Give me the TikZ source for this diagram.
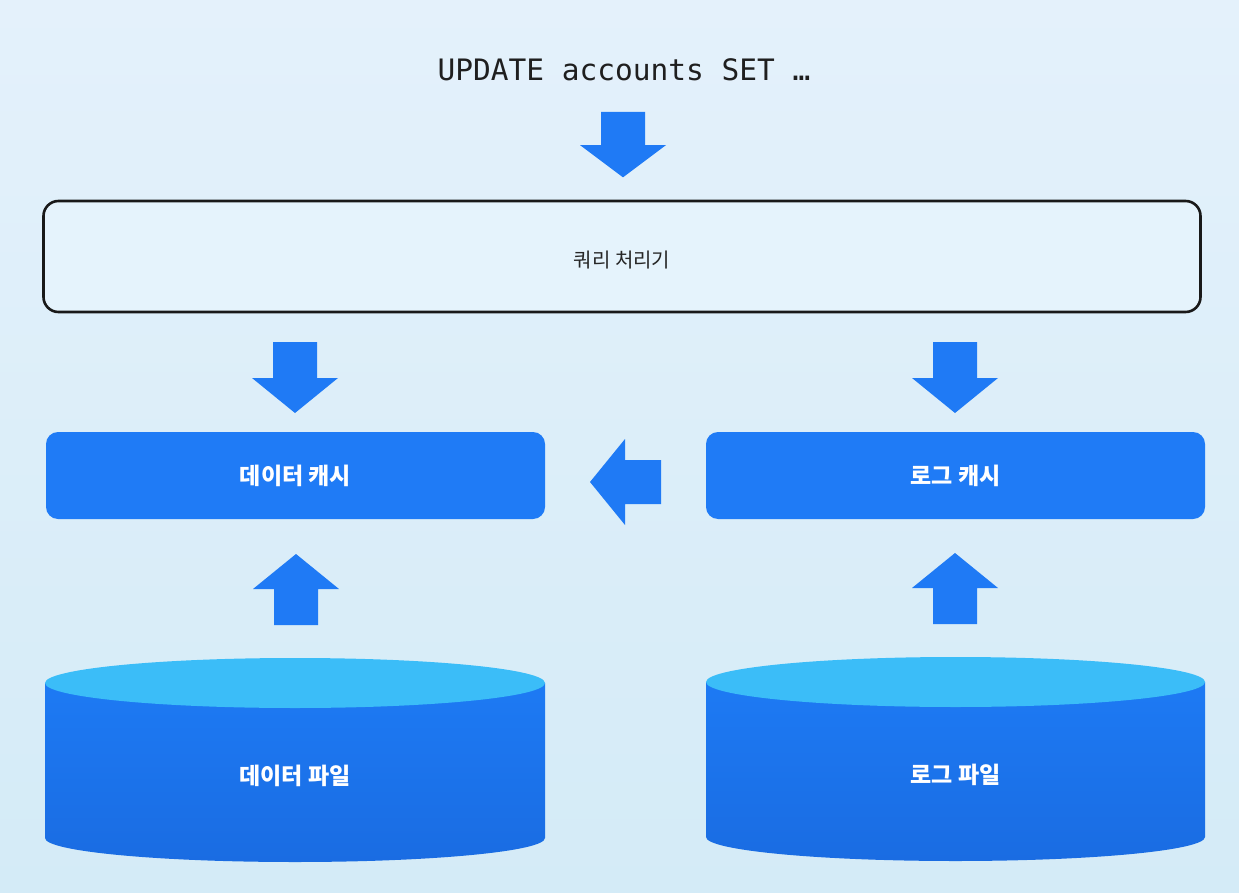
\documentclass[tikz,border=0pt]{standalone}
\usepackage{fontspec}
\setmonofont{DejaVu Sans Mono}
\newfontfamily\kr{Noto Sans CJK KR}
\definecolor{bgtop}{HTML}{E4F1FB}
\definecolor{bgbot}{HTML}{D4EBF7}
\definecolor{boxblue}{HTML}{1F7BF6}
\definecolor{arrowblue}{HTML}{1F7AF5}
\definecolor{cyltop}{HTML}{3BBDF8}
\definecolor{cylbody}{HTML}{1D7AF4}
\definecolor{cylbot}{HTML}{1A6CE2}
\definecolor{qfill}{HTML}{E5F3FC}
\tikzset{
  querybox/.style={draw=black!90, line width=2.6pt, fill=qfill, rounded corners=15pt,
    minimum width=1157pt, minimum height=111pt, inner sep=0pt},
  querylabel/.style={inner sep=0pt, font=\kr\fontsize{20}{22}\selectfont, text=black!85},
  cachebox/.style={fill=boxblue, rounded corners=12pt, minimum width=499pt,
    minimum height=87pt, inner sep=0pt, text=white,
    font=\kr\bfseries\fontsize{23}{26}\selectfont},
  cyllabel/.style={text=white, inner sep=0pt, font=\kr\bfseries\fontsize{23}{26}\selectfont},
  pics/barrow/.style={code={
    \fill[arrowblue] (-22,0) -- (22,0) -- (22,36) -- (43,36) -- (0,71)
      -- (-43,36) -- (-22,36) -- cycle;}}
}
\begin{document}
\begin{tikzpicture}[x=1pt,y=-1pt]
\useasboundingbox (0,0) rectangle (1239,893);
\shade[top color=bgtop,bottom color=bgbot] (0,0) rectangle (1239,893);

% top statement
\node[font=\ttfamily\fontsize{29.5}{32}\selectfont, text=black!88, inner sep=0pt] (upd) at (624,70) {UPDATE accounts SET …};

% query processor
\node[querybox] (qp) at (622,256.5) {};
\node[querylabel] (qpl) at ([yshift=-4pt]qp.center) {쿼리 처리기};

% caches
\node[cachebox] (dc) at (295.5,475.5) {데이터 캐시};
\node[cachebox] (lc) at (955.5,475.5) {로그 캐시};

% cylinders
\shade[top color=cylbody, bottom color=cylbot]
  (45,683) -- (45,838) arc[start angle=180, end angle=0, x radius=250, y radius=24]
  -- (545,683) -- cycle;
\fill[cyltop] (295,683) ellipse[x radius=250, y radius=25];
\node[cyllabel] (df) at (295,776) {데이터 파일};

\shade[top color=cylbody, bottom color=cylbot]
  (706,682) -- (706,837) arc[start angle=180, end angle=0, x radius=249.5, y radius=24]
  -- (1205,682) -- cycle;
\fill[cyltop] (955.5,682) ellipse[x radius=249.5, y radius=25];
\node[cyllabel] (lf) at (955.5,775) {로그 파일};

% block arrows (tail points)
\coordinate (a0) at (623,112);
\coordinate (a1) at (295,342);
\coordinate (a2) at (955,342);
\coordinate (a3) at (661,482);
\coordinate (a4) at (296,625);
\coordinate (a5) at (955,624);
\pic[yscale=0.92] at (a0) {barrow};
\pic at (a1) {barrow};
\pic at (a2) {barrow};
\pic[rotate=-90] at (a3) {barrow};
\pic[rotate=180] at (a4) {barrow};
\pic[rotate=180] at (a5) {barrow};
\end{tikzpicture}
\end{document}
